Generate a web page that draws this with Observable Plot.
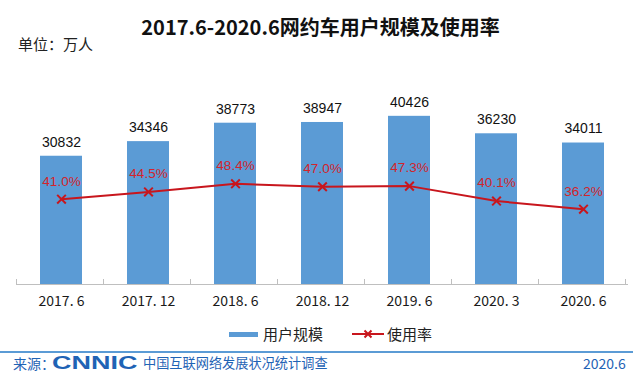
<!DOCTYPE html>
<html>
<head>
<meta charset="utf-8">
<script src="https://cdn.jsdelivr.net/npm/d3@7"></script>
<script src="https://cdn.jsdelivr.net/npm/@observablehq/plot@0.6"></script>
<style>
  body { margin: 0; background: #fff; }
  #page { position: relative; width: 641px; height: 377px; overflow: hidden; background: #fff;
          font-family: "Noto Sans CJK SC", "Noto Sans", sans-serif; }
  .abs { position: absolute; line-height: 1; white-space: nowrap; }
</style>
</head>
<body>
<div id="page">
  <div class="abs" style="left:0;width:641px;top:17px;text-align:center;font-size:20px;font-weight:bold;color:#111;">2017.6-2020.6网约车用户规模及使用率</div>
  <div class="abs" style="left:18px;top:36px;font-size:15px;color:#222;">单位：万人</div>
  <div id="chart" class="abs" style="left:0;top:60px;"></div>
  <div id="legend" class="abs" style="left:0;top:325px;width:641px;height:18px;font-size:15px;color:#222;">
    <div class="abs" style="left:229px;top:7px;width:29px;height:5px;background:#5b9bd5;"></div>
    <div class="abs" style="left:263px;top:1px;">用户规模</div>
    <svg class="abs" style="left:350px;top:1px;" width="36" height="16">
      <line x1="2" y1="8" x2="34" y2="8" stroke="#c8161d" stroke-width="2"/>
      <path d="M14.5,4.5L21.5,11.5M21.5,4.5L14.5,11.5" stroke="#c8161d" stroke-width="2"/>
    </svg>
    <div class="abs" style="left:387px;top:1px;">使用率</div>
  </div>
  <div class="abs" style="left:0;top:351px;width:633px;height:2px;background:#5b9bd5;"></div>
  <div class="abs" style="left:13px;top:356px;font-size:14px;color:#1f63b5;">来源：</div>
  <div class="abs" style="left:52px;top:353px;font-size:19px;font-weight:900;color:#1f63b5;font-family:'Liberation Sans',Arial,sans-serif;transform:scaleX(1.42);transform-origin:left top;">CNNIC</div>
  <div class="abs" style="left:143px;top:356px;font-size:13.2px;color:#1f63b5;">中国互联网络发展状况统计调查</div>
  <div class="abs" style="left:583px;top:356px;font-size:14px;color:#1f63b5;">2020.6</div>
</div>
<script>
const categories = ["2017. 6", "2017. 12", "2018. 6", "2018. 12", "2019. 6", "2020. 3", "2020. 6"];
const users = [30832, 34346, 38773, 38947, 40426, 36230, 34011];
const rates = [41.0, 44.5, 48.4, 47.0, 47.3, 40.1, 36.2];
const userMax = 50000;
const rateMax = 100;

const data = categories.map((c, i) => ({
  cat: c,
  users: users[i],
  rate: rates[i],
  rateY: rates[i] / rateMax * userMax
}));

const red = "#c8161d";
const plot = Plot.plot({
  width: 641,
  height: 260,
  marginLeft: 16,
  marginRight: 13,
  marginTop: 16,
  marginBottom: 36,
  style: { fontFamily: "'Noto Sans CJK SC', sans-serif", background: "transparent", overflow: "visible" },
  x: { domain: categories, paddingInner: 0.52, paddingOuter: 0.26 },
  y: { domain: [0, userMax], axis: null },
  marks: [
    Plot.barY(data, { x: "cat", y: "users", fill: "#5b9bd5" }),
    Plot.ruleY([0], { stroke: "#bfbfbf", strokeWidth: 1 }),
    Plot.axisX({ tickSize: 0, tickPadding: 12, fontSize: 14, fill: "#1a1a1a", label: null }),
    Plot.text(data, { x: "cat", y: "users", text: d => String(d.users), dy: -14, fontSize: 14, fill: "#111",
                      fontFamily: "'Liberation Sans', Arial, sans-serif" }),
    Plot.line(data, { x: "cat", y: "rateY", stroke: red, strokeWidth: 2 }),
    Plot.dot(data, { x: "cat", y: "rateY", symbol: "times", r: 4, stroke: red, strokeWidth: 2 }),
    Plot.text(data, { x: "cat", y: "rateY", text: d => d.rate.toFixed(1) + "%", dy: -18, fontSize: 13.5, fill: "#d3242b",
                      fontFamily: "'Liberation Sans', Arial, sans-serif" })
  ]
});

// category boundary tick marks on the axis line, from the library's x scale
const xs = plot.scale("x");
const ys = plot.scale("y");
const y0 = ys.apply(0);
const g = d3.select(plot).append("g").attr("stroke", "#bfbfbf").attr("stroke-width", 1);
for (let i = 0; i <= categories.length; i++) {
  const xb = Math.round(xs.range[0] + i * xs.step) + 0.5;
  g.append("line").attr("x1", xb).attr("x2", xb).attr("y1", y0 - 5).attr("y2", y0);
}

document.getElementById("chart").appendChild(plot);
</script>
</body>
</html>
